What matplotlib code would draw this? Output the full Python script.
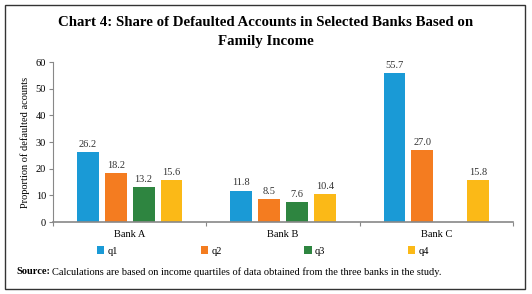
import numpy as np
import matplotlib.pyplot as plt
from matplotlib.patches import Rectangle

banks = ["Bank A", "Bank B", "Bank C"]
quartiles = ["q1", "q2", "q3", "q4"]
q1 = [26.2, 11.8, 55.7]
q2 = [18.2, 8.5, 27.0]
q3 = [13.2, 7.6, None]
q4 = [15.6, 10.4, 15.8]
colors = ["#1a9ad6", "#f47c20", "#2e8540", "#fbb917"]

plt.rcParams['font.family'] = ['Liberation Serif', 'DejaVu Serif']

fig = plt.figure(figsize=(5.32, 2.94), dpi=100)
W, H = 532, 294
ax = fig.add_axes([53 / W, 1 - 222 / H, (513 - 53) / W, (222 - 62) / H])

x = np.arange(len(banks))
step = 0.182
width = 0.143
series = [q1, q2, q3, q4]
for i, (vals, c, name) in enumerate(zip(series, colors, quartiles)):
    xs = [xi + (i - 1.5) * step for xi, v in zip(x, vals) if v is not None]
    vs = [v for v in vals if v is not None]
    bars = ax.bar(xs, vs, width, color=c, label=name)
    for b, v in zip(bars, vs):
        ax.text(b.get_x() + b.get_width() / 2, v + 1.2, f"{v:.1f}",
                ha="center", va="bottom", fontsize=7.5, color="#333333")

ax.set_xlim(-0.5, 2.5)
ax.set_ylim(0, 60)
ax.set_yticks(range(0, 61, 10))
ax.set_xticks([-0.5, 0.5, 1.5, 2.5])
ax.set_xticklabels([])
ax.set_xticks(x, minor=True)
ax.set_xticklabels(banks, minor=True, fontsize=7.5)
ax.tick_params(axis="x", which="minor", length=0, pad=6)
ax.tick_params(axis="x", which="major", length=3, color="#888888")
ax.tick_params(axis="y", length=3, color="#888888", labelsize=7.5, pad=2)
for s in ["top", "right"]:
    ax.spines[s].set_visible(False)
ax.spines["left"].set_color("#888888")
ax.spines["bottom"].set_color("#888888")
ax.spines["bottom"].set_linewidth(1.2)
ax.set_ylabel("Proportion of defaulted acounts", fontsize=7.5, labelpad=4)

fig.legend(loc="center", bbox_to_anchor=(263 / W, 1 - 251 / H), ncol=4,
           frameon=False, fontsize=7.5, handlelength=0.7, handleheight=0.7,
           handletextpad=0.3, columnspacing=7.95)

fig.text(0.5, 1 - 23 / H, "Chart 4: Share of Defaulted Accounts in Selected Banks Based on",
         ha="center", va="center", fontsize=10.7, fontweight="bold")
fig.text(0.5, 1 - 42 / H, "Family Income", ha="center", va="center",
         fontsize=10.7, fontweight="bold")

src = fig.text(16 / W, 1 - 272 / H, "Source:", ha="left", va="center",
               fontsize=7.5, fontweight="bold")
fig.canvas.draw()
bb = src.get_window_extent(renderer=fig.canvas.get_renderer())
fig.text((bb.x1 + 2) / W, 1 - 272 / H,
         "Calculations are based on income quartiles of data obtained from the three banks in the study.",
         ha="left", va="center", fontsize=7.5)

fig.add_artist(Rectangle((5 / W, 5 / H), 520 / W, 284 / H, transform=fig.transFigure,
                         fill=False, edgecolor="#333333", linewidth=1))

fig.savefig("out.png", dpi=100)
